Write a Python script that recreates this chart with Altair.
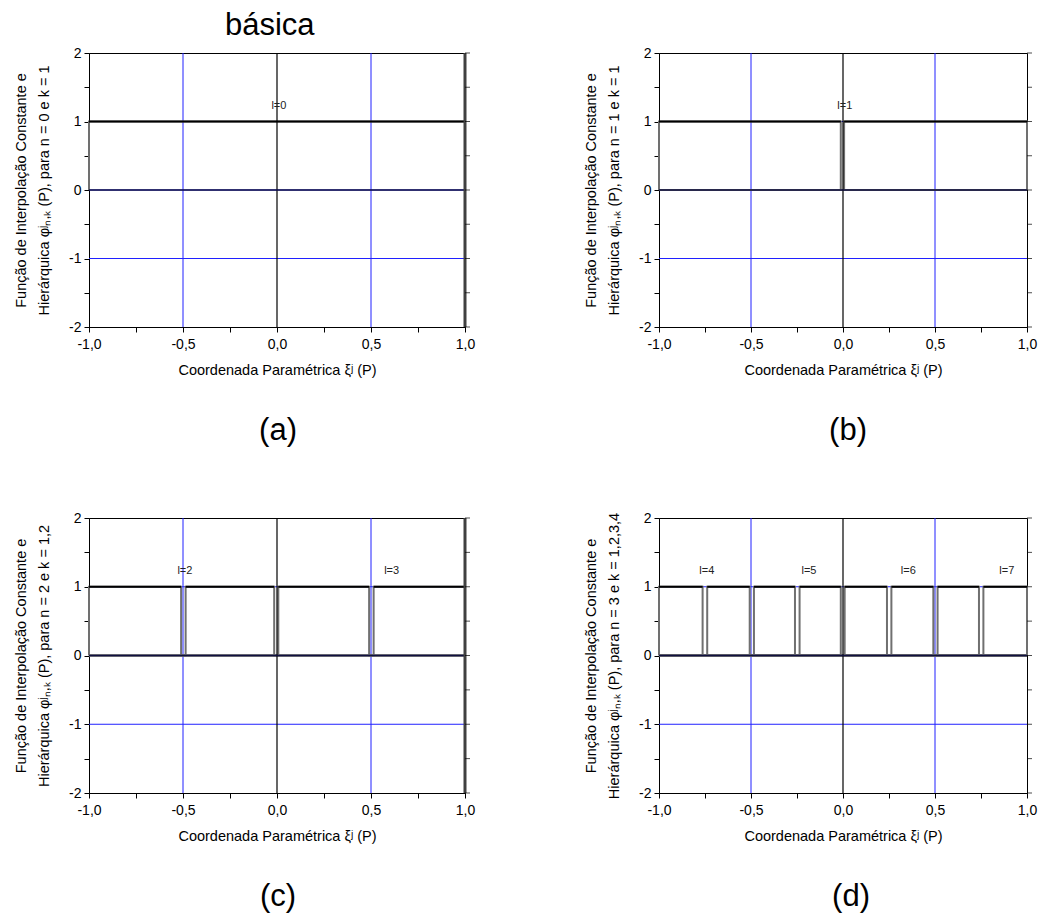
import altair as alt
import pandas as pd

FONT = "Liberation Sans"

# ---------------- data ----------------
# supports (intervals where the function equals 1) for each panel
supports_a = [(-1.0, 1.0)]
supports_b = [(-1.0, -0.012), (0.006, 1.0)]
supports_c = [(-1.0, -0.510), (-0.486, -0.015), (0.007, 0.490), (0.514, 1.0)]
supports_d = [(-1.0, -0.763), (-0.738, -0.507), (-0.484, -0.261), (-0.236, -0.012),
              (0.009, 0.239), (0.263, 0.491), (0.514, 0.739), (0.763, 1.0)]

# level labels
labels_a_text = ["l=0"]
labels_a_x = [0.01]
labels_b_text = ["l=1"]
labels_b_x = [0.01]
labels_c_text = ["l=2", "l=3"]
labels_c_x = [-0.49, 0.61]
labels_d_text = ["l=4", "l=5", "l=6", "l=7"]
labels_d_x = [-0.74, -0.185, 0.355, 0.89]
label_y = 1.23

function_value = 1.0

# reference lines
blue_x = [-0.5, 0.5]
blue_y = [-1.0, 0.0, 1.0]
zero_x = [0.0]
zero_y = [0.0]
right_edge_a = [1.0]
right_edge_c = [1.0]

x_ticks = [-1.0, -0.75, -0.5, -0.25, 0.0, 0.25, 0.5, 0.75, 1.0]
y_ticks = [-2.0, -1.5, -1.0, -0.5, 0.0, 0.5, 1.0, 1.5, 2.0]
x_max = 1.0

panel_n = ["0", "1", "2", "3"]
panel_k = ["1", "1", "1,2", "1,2,3,4"]
captions = ["(a)", "(b)", "(c)", "(d)"]

# ---------------- helpers ----------------
xs = alt.Scale(domain=[-1, 1], nice=False, zero=False)
ys = alt.Scale(domain=[-2, 2], nice=False, zero=False)

x_label_expr = ("abs(datum.value*2 - round(datum.value*2)) < 0.001 ? "
                "(datum.value < -0.001 ? '-' : '') + replace(format(abs(datum.value), '.1f'), '.', ',') : ''")
y_label_expr = "abs(datum.value - round(datum.value)) < 0.001 ? '' + round(datum.value) : ''"

X_TITLE = "Coordenada Paramétrica ξʲ (P)"
x_axis = alt.Axis(values=x_ticks, labelExpr=x_label_expr, tickSize=5, labelPadding=5,
                  titlePadding=12, grid=False, labelFlush=False, labelOverlap=False)

BLUE = "#2020ff"


def panel(supports, lab_text, lab_x, n, k, width, height, caption, cap_dx, edge):
    y_title = ["Função de Interpolação Constante e",
               f"Hierárquica φʲₙ,ₖ (P), para n = {n} e k = {k}"]
    y_axis = alt.Axis(values=y_ticks, labelExpr=y_label_expr, tickSize=5, labelPadding=3,
                      titlePadding=17, grid=False, labelFlush=False, labelOverlap=False,
                      titleLineHeight=23)

    def X(field="x"):
        return alt.X(f"{field}:Q", scale=xs, axis=x_axis, title=X_TITLE)

    def Y(field="y"):
        return alt.Y(f"{field}:Q", scale=ys, axis=y_axis, title=y_title)

    rows = []
    for s, (a, b) in enumerate(supports):
        pts = [(-1.0, 0.0), (a, 0.0), (a, function_value), (b, function_value), (b, 0.0), (1.0, 0.0)]
        for i, (px, py) in enumerate(pts):
            rows.append({"seg": s, "i": i, "x": px, "y": py})
    trace = pd.DataFrame(rows)
    sup = pd.DataFrame({"x": [s[0] for s in supports], "x2": [s[1] for s in supports],
                        "y": [function_value] * len(supports)})

    vx = alt.Chart(pd.DataFrame({"x": blue_x})).mark_rule(color=BLUE, stroke=BLUE, strokeWidth=1).encode(x=X())
    vy = alt.Chart(pd.DataFrame({"y": blue_y})).mark_rule(color=BLUE, stroke=BLUE, strokeWidth=1).encode(y=Y())
    lines = alt.Chart(trace).mark_line(color="#707070", strokeWidth=2, clip=False).encode(
        x=X(), y=Y(), detail="seg:N", order="i:Q")
    zx = alt.Chart(pd.DataFrame({"x": zero_x})).mark_rule(color="black", strokeWidth=1.2).encode(x=X())
    zy = alt.Chart(pd.DataFrame({"y": zero_y})).mark_rule(color="#101040", strokeWidth=1.4).encode(y=Y())
    tops = alt.Chart(sup).mark_rule(color="black", strokeWidth=2).encode(x=X(), x2="x2:Q", y=Y())
    labs = alt.Chart(pd.DataFrame({"x": lab_x, "y": [label_y] * len(lab_x), "t": lab_text})).mark_text(
        font=FONT, fontSize=11, color="#222222").encode(x=X(), y=Y(), text="t:N")
    layers = [vx, vy, lines, zx, zy, tops, labs]
    if edge:
        layers.append(alt.Chart(pd.DataFrame({"x": edge})).mark_rule(color="#404040", strokeWidth=3).encode(
            x=X()))
    # outward ticks on the right frame edge
    right = alt.Chart(pd.DataFrame({"x": [x_max] * len(y_ticks), "y": y_ticks})).mark_tick(
        orient="horizontal", size=5, thickness=1, color="black", xOffset=2.5, clip=False).encode(
        x=X(), y=Y())
    layers.append(right)
    return alt.layer(*layers).properties(
        width=width, height=height,
        title=alt.Title(caption, orient="bottom", frame="group", anchor="middle", dx=cap_dx,
                        offset=39, fontSize=31, font=FONT, fontWeight="normal", color="black"),
    )


pa = panel(supports_a, labels_a_text, labels_a_x, panel_n[0], panel_k[0], 376, 274, captions[0], 1, right_edge_a)
pb = panel(supports_b, labels_b_text, labels_b_x, panel_n[1], panel_k[1], 368, 274, captions[1], 5, [])
pc = panel(supports_c, labels_c_text, labels_c_x, panel_n[2], panel_k[2], 376, 275, captions[2], 1, right_edge_c)
pd_ = panel(supports_d, labels_d_text, labels_d_x, panel_n[3], panel_k[3], 368, 275, captions[3], 8, [])

row1 = alt.hconcat(pa, pb, spacing=107,
                   title=alt.Title("básica", anchor="start", frame="group", dx=136, fontSize=31,
                                   font=FONT, fontWeight="normal", color="black"))
row2 = alt.hconcat(pc, pd_, spacing=107)

chart = alt.vconcat(row1, row2, spacing=64).properties(
    padding={"left": 5, "top": 1, "right": 5, "bottom": 5}
).configure_view(
    stroke="black", strokeWidth=1
).configure_axis(
    domainColor="black", tickColor="black", labelColor="black", titleColor="black",
    labelFont=FONT, titleFont=FONT, labelFontSize=14, titleFontSize=14.5,
    titleFontWeight="normal", domainWidth=1, tickWidth=1,
)

chart.save("out.html", embed_options={"renderer": "svg", "actions": False})
